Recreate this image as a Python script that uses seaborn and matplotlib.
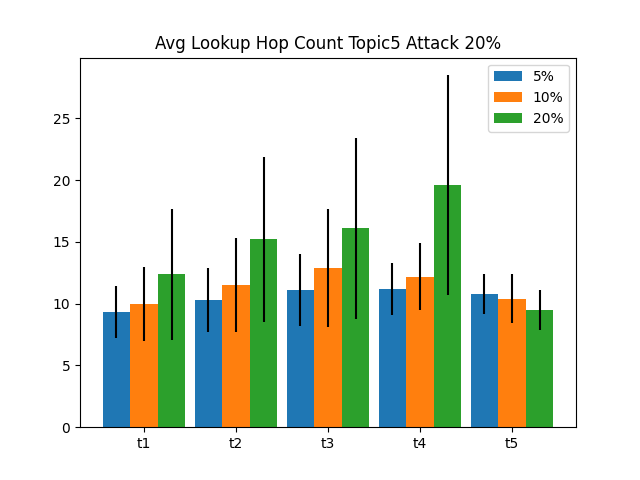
import matplotlib
matplotlib.use("Agg")
import matplotlib.pyplot as plt
import seaborn as sns
import numpy as np
import pandas as pd

categories = ["t1", "t2", "t3", "t4", "t5"]
series = ["5%", "10%", "20%"]
means = {
    "5%": [9.3, 10.3, 11.1, 11.2, 10.8],
    "10%": [10.0, 11.5, 12.9, 12.2, 10.4],
    "20%": [12.4, 15.2, 16.1, 19.6, 9.5],
}
errs = {
    "5%": [2.1, 2.6, 2.9, 2.1, 1.6],
    "10%": [3.0, 3.8, 4.8, 2.7, 2.0],
    "20%": [5.3, 6.7, 7.3, 8.9, 1.6],
}

df = pd.DataFrame([(c, s, means[s][i]) for s in series for i, c in enumerate(categories)],
                  columns=["cat", "series", "val"])

fig, ax = plt.subplots(figsize=(6.4, 4.8), dpi=100)
colors = sns.color_palette("tab10", 3)
x = np.arange(len(categories))
w = 0.3
for k, s in enumerate(series):
    sub = df[df.series == s]
    ax.bar(x + (k - 1) * w, sub["val"].values, w, yerr=errs[s], color=colors[k],
           ecolor="black", label=s, error_kw=dict(elinewidth=1.5))
ax.set_xticks(x)
ax.set_xticklabels(categories)
ax.set_title("Avg Lookup Hop Count Topic5 Attack 20%")
ax.legend(loc="upper right")
fig.savefig("out.png")
